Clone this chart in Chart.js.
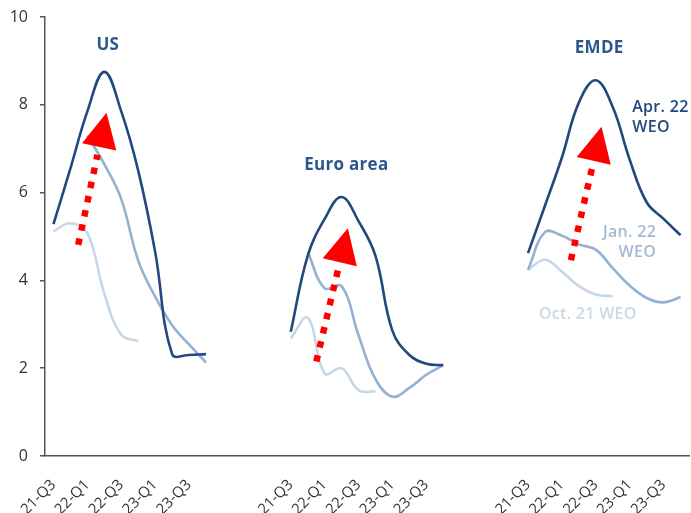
<!DOCTYPE html>
<html>
<head>
<meta charset="utf-8">
<script src="https://cdn.jsdelivr.net/npm/chart.js@4/dist/chart.umd.min.js"></script>
<style>
  html, body { margin: 0; padding: 0; background: #ffffff; }
  #wrap { width: 691px; height: 513px; }
</style>
</head>
<body>
<div id="wrap"><canvas id="chart" width="691" height="513"></canvas></div>
<script>
// Quarterly inflation projections (percent), three WEO vintages per region
const quarters = ['21-Q3', '21-Q4', '22-Q1', '22-Q2', '22-Q3', '22-Q4', '23-Q1', '23-Q2', '23-Q3', '23-Q4'];
const regions = ['US', 'Euro area', 'EMDE'];
const vintages = ['Apr. 22 WEO', 'Jan. 22 WEO', 'Oct. 21 WEO'];
const yTicks = [0, 2, 4, 6, 8, 10];

const usApr   = [5.28, 6.55, 7.85, 8.75, 7.85, 6.5, 4.65, 2.32, 2.3, 2.32];
const usJan   = [null, null, 7.3, 6.65, 5.85, 4.45, 3.63, 2.98, 2.54, 2.13];
const usOct   = [5.12, 5.3, 5.08, 3.7, 2.76, 2.62, null, null, null, null];

const euroApr = [2.83, 4.56, 5.4, 5.9, 5.35, 4.56, 2.85, 2.3, 2.1, 2.07];
const euroJan = [null, 4.65, 3.82, 3.87, 2.75, 1.75, 1.35, 1.55, 1.85, 2.07];
const euroOct = [2.68, 3.15, 1.88, 2.0, 1.5, 1.47, null, null, null, null];

const emdeApr = [4.62, 5.7, 6.8, 8.05, 8.56, 7.95, 6.75, 5.78, 5.4, 5.03];
const emdeJan = [4.24, 5.1, 5.02, 4.82, 4.7, 4.28, 3.88, 3.6, 3.5, 3.62];
const emdeOct = [4.24, 4.47, 4.2, 3.87, 3.68, 3.64, null, null, null, null];

// Empty categories separating the three regional panels
const GAP = 4;
const PANEL = quarters.length + GAP;
const gapFill = new Array(GAP).fill(null);

function joinPanels(a, b, c) {
  return [...a, ...gapFill, ...b, ...gapFill, ...c];
}

// category axis: each panel's quarters, blank entries in the gaps
const labels = [];
regions.forEach((r, p) => {
  quarters.forEach((q) => labels.push(q));
  if (p < regions.length - 1) for (let g = 0; g < GAP; g++) labels.push('');
});

const panelStart = regions.map((r, p) => p * PANEL);

const aprSeries = joinPanels(usApr, euroApr, emdeApr);
const janSeries = joinPanels(usJan, euroJan, emdeJan);
const octSeries = joinPanels(usOct, euroOct, emdeOct);

const COLORS = {
  apr: '#21497f',
  jan: '#93b1d0',
  oct: '#c6d7e8',
  title: '#2c578c',
  janText: '#a5bad2',
  octText: '#cbd8e6',
  axis: '#555555',
  tick: '#333333',
  arrow: '#ff0000'
};

// Red "upward revision" arrows, in (category position, value) coordinates
const arrows = [
  { tail: [panelStart[0] + 1.46, 4.81], tip: [panelStart[0] + 3.13, 7.82] },
  { tail: [panelStart[1] + 1.51, 2.15], tip: [panelStart[1] + 3.37, 5.19] },
  { tail: [panelStart[2] + 2.53, 4.46], tip: [panelStart[2] + 4.34, 7.50] }
];

// Text annotations placed in data coordinates
const notes = [
  { lines: [regions[0]], at: [panelStart[0] + 3.21, 9.37], color: COLORS.title, align: 'center', size: 17, weight: 700 },
  { lines: [regions[1]], at: [panelStart[1] + 3.28, 6.62], color: COLORS.title, align: 'center', size: 17, weight: 700 },
  { lines: [regions[2]], at: [panelStart[2] + 4.2, 9.29], color: COLORS.title, align: 'center', size: 17, weight: 700 },
  { lines: ['Apr. 22', 'WEO'], at: [panelStart[2] + 6.15, 7.95], color: COLORS.apr, align: 'left', size: 16, weight: 600 },
  { lines: ['Jan. 22', 'WEO'], at: [panelStart[2] + 7.56, 5.10], color: COLORS.janText, align: 'right', size: 16, weight: 600 },
  { lines: ['Oct. 21 WEO'], at: [panelStart[2] + 3.53, 3.23], color: COLORS.octText, align: 'center', size: 16, weight: 600 }
];

const annotationPlugin = {
  id: 'annotations',
  afterDatasetsDraw(chart) {
    const { ctx } = chart;
    const xs = chart.scales.x, ys = chart.scales.y;
    ctx.save();
    arrows.forEach((a) => {
      const x0 = xs.getPixelForValue(a.tail[0]), y0 = ys.getPixelForValue(a.tail[1]);
      const x1 = xs.getPixelForValue(a.tip[0]), y1 = ys.getPixelForValue(a.tip[1]);
      const ang = Math.atan2(y1 - y0, x1 - x0);
      const ux = Math.cos(ang), uy = Math.sin(ang);
      const headLen = 35, headHalf = 17.5, shaftGap = 8;
      const bx = x1 - headLen * ux, by = y1 - headLen * uy;
      // dotted shaft
      ctx.strokeStyle = COLORS.arrow;
      ctx.lineWidth = 6.5;
      ctx.lineCap = 'butt';
      ctx.setLineDash([6.5, 8]);
      ctx.beginPath();
      ctx.moveTo(x0, y0);
      ctx.lineTo(bx - shaftGap * ux, by - shaftGap * uy);
      ctx.stroke();
      ctx.setLineDash([]);
      // arrow head
      ctx.fillStyle = COLORS.arrow;
      ctx.beginPath();
      ctx.moveTo(x1, y1);
      ctx.lineTo(bx - headHalf * uy, by + headHalf * ux);
      ctx.lineTo(bx + headHalf * uy, by - headHalf * ux);
      ctx.closePath();
      ctx.fill();
    });
    notes.forEach((n) => {
      const px = xs.getPixelForValue(n.at[0]);
      const py = ys.getPixelForValue(n.at[1]);
      ctx.font = `${n.weight} ${n.size}px "Open Sans", sans-serif`;
      if ('letterSpacing' in ctx) ctx.letterSpacing = '0.3px';
      ctx.fillStyle = n.color;
      ctx.textAlign = n.align;
      ctx.textBaseline = 'middle';
      const lh = 20;
      n.lines.forEach((t, i) => ctx.fillText(t, px, py + i * lh));
    });
    ctx.restore();
  }
};

const lineStyle = (color) => ({
  borderColor: color,
  backgroundColor: color,
  borderWidth: 2.6,
  pointRadius: 0,
  pointHoverRadius: 0,
  fill: false,
  spanGaps: false,
  tension: 0.4
});

new Chart(document.getElementById('chart'), {
  type: 'line',
  data: {
    labels: labels,
    datasets: [
      { label: vintages[2], data: octSeries, ...lineStyle(COLORS.oct), order: 3 },
      { label: vintages[1], data: janSeries, ...lineStyle(COLORS.jan), order: 2 },
      { label: vintages[0], data: aprSeries, ...lineStyle(COLORS.apr), order: 1 }
    ]
  },
  options: {
    responsive: false,
    animation: false,
    devicePixelRatio: 1,
    layout: { padding: { top: 17, right: 2, left: 0, bottom: 0 } },
    plugins: { legend: { display: false }, tooltip: { enabled: false } },
    scales: {
      x: {
        type: 'category',
        offset: true,
        grid: { display: false, drawTicks: false },
        border: { display: true, color: COLORS.axis, width: 1.5 },
        afterFit: (s) => { s.height = 57; s.paddingLeft = 0; s.paddingRight = 0; },
        ticks: {
          autoSkip: false,
          minRotation: 45,
          maxRotation: 45,
          padding: 20,
          color: COLORS.tick,
          font: { family: '"Open Sans", sans-serif', size: 15 },
          callback: function (value, index) {
            const lab = this.getLabelForValue(value);
            if (!lab) return '';
            return (index % PANEL) % 2 === 0 ? lab : '';
          }
        }
      },
      y: {
        min: 0,
        max: 10,
        afterFit: (s) => { s.width = 45; s.paddingTop = 0; s.paddingBottom = 0; },
        afterBuildTicks: (s) => { s.ticks = yTicks.map((v) => ({ value: v })); },
        grid: { drawOnChartArea: false, drawTicks: true, tickLength: 5, color: COLORS.axis, lineWidth: 1.5 },
        border: { display: true, color: COLORS.axis, width: 1.5 },
        ticks: {
          padding: 12,
          color: COLORS.tick,
          font: { family: '"Open Sans", sans-serif', size: 16 }
        }
      }
    }
  },
  plugins: [annotationPlugin]
});
</script>
</body>
</html>
